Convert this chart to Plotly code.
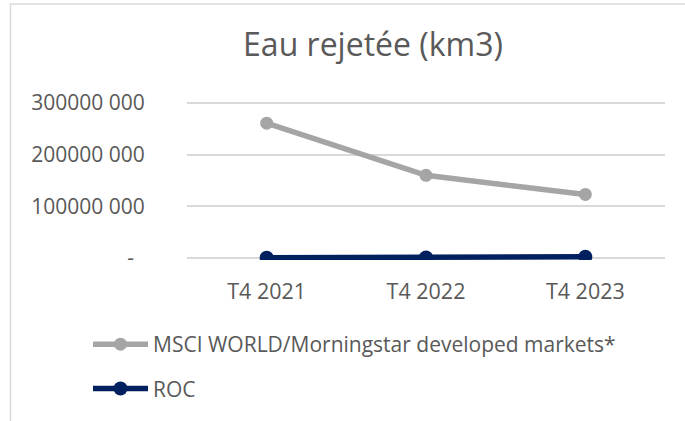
import plotly.graph_objects as go

categories = ["T4 2021", "T4 2022", "T4 2023"]
msci_values = [261000000, 160000000, 123000000]
roc_values = [400000, 700000, 2300000]
tick_values = [0, 100000000, 200000000, 300000000]
tick_labels = ["-\u00a0\u00a0", "100000 000", "200000 000", "300000 000"]

FONT = "Open Sans"
TEXT = "#595959"

fig = go.Figure()
fig.add_trace(go.Scatter(
    x=categories, y=msci_values, mode="lines+markers",
    name="MSCI WORLD/Morningstar developed markets*",
    line=dict(color="#A5A5A5", width=5.5),
    marker=dict(color="#A5A5A5", size=13),
    legendgroup="a",
))
fig.add_trace(go.Scatter(
    x=categories, y=roc_values, mode="lines+markers",
    name="ROC",
    line=dict(color="#002060", width=5.5),
    marker=dict(color="#002060", size=14),
    legendgroup="b",
))

L, R, T, B = 187, 665, 101, 260
W, H = 685, 421
pw, ph = R - L, B - T

def px_x(x):
    return (x - L) / pw

def px_y(y):
    return (B - y) / ph

fig.update_layout(
    width=W, height=H,
    margin=dict(l=L, r=W - R, t=T, b=H - B, pad=0),
    paper_bgcolor="white", plot_bgcolor="white",
    font=dict(family=FONT, size=21, color=TEXT),
    title=dict(text="Eau rejetée (km3)", x=373 / W, xanchor="center",
               y=1 - 45 / H, yanchor="middle", yref="container",
               font=dict(family=FONT, size=32, color=TEXT)),
    xaxis=dict(type="category", range=[-0.5, 2.5], showgrid=False,
               showline=False, zeroline=False, ticks="outside", ticklen=12,
               tickcolor="rgba(0,0,0,0)", tickfont=dict(size=21.5, color=TEXT)),
    yaxis=dict(range=[-4000000, 304000000], tickvals=tick_values, ticktext=tick_labels,
               showgrid=True, gridcolor="#D9D9D9", gridwidth=1.5,
               zeroline=False, showline=False, ticks="outside", ticklen=37,
               tickcolor="rgba(0,0,0,0)", tickfont=dict(size=21, color=TEXT)),
    showlegend=True,
    legend=dict(orientation="v", x=px_x(88), xanchor="left",
                y=px_y(324), yanchor="top", tracegroupgap=14,
                font=dict(size=21, color=TEXT), itemwidth=55,
                bgcolor="rgba(0,0,0,0)"),
    hovermode=False,
    shapes=[
        dict(type="rect", xref="paper", yref="paper",
             x0=px_x(10.5), x1=px_x(720), y0=px_y(460), y1=px_y(4),
             line=dict(color="#D9D9D9", width=1.5), fillcolor="rgba(0,0,0,0)",
             layer="below"),
    ],
)

fig.write_html("out.html", config={"displayModeBar": False},
               post_script="document.body.style.margin='0px';")
